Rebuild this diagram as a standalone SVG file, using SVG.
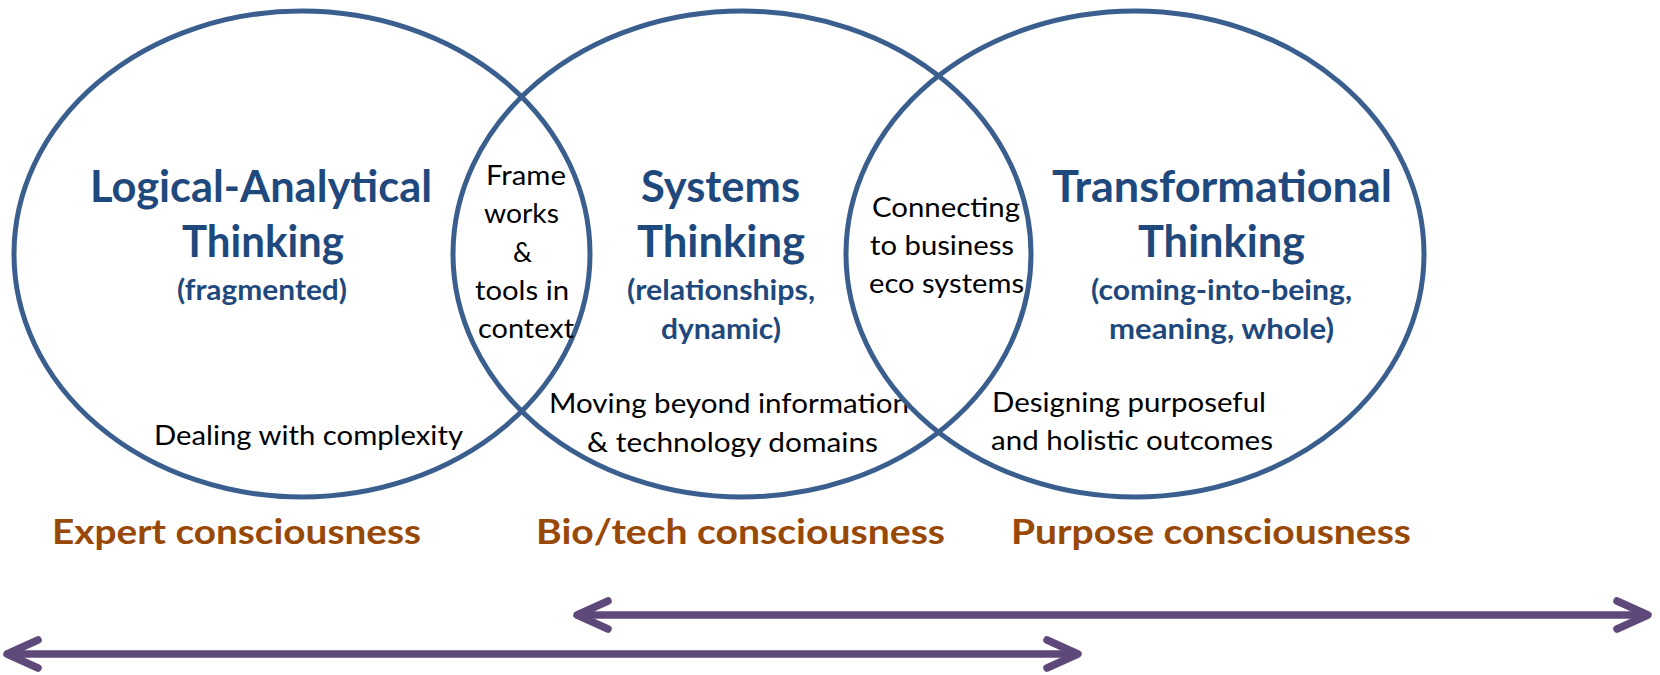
<svg xmlns="http://www.w3.org/2000/svg" width="1660" height="675" viewBox="0 0 1660 675">
  <style>
    .ring { fill: none; stroke: #3A5F8E; stroke-width: 5; }
    .title { font-family: Lato, "Liberation Sans", sans-serif; font-weight: 700; font-size: 44px; fill: #1F497D; }
    .sub { font-family: Lato, "Liberation Sans", sans-serif; font-weight: 700; font-size: 29px; fill: #1F497D; }
    .note { font-family: Lato, "Liberation Sans", sans-serif; font-weight: 400; font-size: 27px; fill: #000000; }
    .level { font-family: Lato, "Liberation Sans", sans-serif; font-weight: 700; font-size: 35px; fill: #984807; }
    .span { fill: none; stroke: #5F497A; stroke-width: 7.5; }
  </style>
  <defs>
    <marker id="chevron" markerUnits="userSpaceOnUse" orient="auto-start-reverse" refX="0" refY="0" markerWidth="40" markerHeight="40" overflow="visible">
      <path d="M-31,-14 L0,0 L-31,14" fill="none" stroke="#5F497A" stroke-width="7.5" stroke-linecap="round" stroke-linejoin="round"/>
    </marker>
  </defs>
  <rect width="1660" height="675" fill="#FFFFFF"/>

  <!-- three overlapping thinking modes -->
  <g id="logical-analytical">
    <ellipse class="ring" cx="302" cy="254" rx="288" ry="243"/>
    <text class="title" x="90" y="202" textLength="342" lengthAdjust="spacingAndGlyphs">Logical-Analytical</text>
    <text class="title" x="182" y="257" textLength="162" lengthAdjust="spacingAndGlyphs">Thinking</text>
    <text class="sub" x="177" y="300" textLength="170" lengthAdjust="spacingAndGlyphs">(fragmented)</text>
    <text class="note" x="154" y="445" textLength="309" lengthAdjust="spacingAndGlyphs">Dealing with complexity</text>
  </g>

  <g id="systems">
    <ellipse class="ring" cx="742" cy="254" rx="289" ry="243"/>
    <text class="title" x="641" y="202" textLength="159" lengthAdjust="spacingAndGlyphs">Systems</text>
    <text class="title" x="637" y="257" textLength="168" lengthAdjust="spacingAndGlyphs">Thinking</text>
    <text class="sub" x="627" y="300" textLength="188" lengthAdjust="spacingAndGlyphs">(relationships,</text>
    <text class="sub" x="661" y="339" textLength="120" lengthAdjust="spacingAndGlyphs">dynamic)</text>
    <text class="note" x="549" y="413" textLength="360" lengthAdjust="spacingAndGlyphs">Moving beyond information</text>
    <text class="note" x="587" y="452" textLength="291" lengthAdjust="spacingAndGlyphs">&amp; technology domains</text>
  </g>

  <g id="transformational">
    <ellipse class="ring" cx="1135" cy="254" rx="289" ry="243"/>
    <text class="title" x="1052" y="202" textLength="340" lengthAdjust="spacingAndGlyphs">Transformational</text>
    <text class="title" x="1138" y="257" textLength="167" lengthAdjust="spacingAndGlyphs">Thinking</text>
    <text class="sub" x="1091" y="300" textLength="261" lengthAdjust="spacingAndGlyphs">(coming-into-being,</text>
    <text class="sub" x="1109" y="339" textLength="225" lengthAdjust="spacingAndGlyphs">meaning, whole)</text>
    <text class="note" x="992" y="412" textLength="274" lengthAdjust="spacingAndGlyphs">Designing purposeful</text>
    <text class="note" x="991" y="450" textLength="282" lengthAdjust="spacingAndGlyphs">and holistic outcomes</text>
  </g>

  <!-- overlap regions -->
  <g id="frameworks-overlap">
    <text class="note" x="486" y="185" textLength="80" lengthAdjust="spacingAndGlyphs">Frame</text>
    <text class="note" x="484" y="223" textLength="75" lengthAdjust="spacingAndGlyphs">works</text>
    <text class="note" x="513" y="262" textLength="19" lengthAdjust="spacingAndGlyphs">&amp;</text>
    <text class="note" x="475" y="300" textLength="94" lengthAdjust="spacingAndGlyphs">tools in</text>
    <text class="note" x="478" y="338" textLength="96" lengthAdjust="spacingAndGlyphs">context</text>
  </g>

  <g id="ecosystems-overlap">
    <text class="note" x="872" y="217" textLength="148" lengthAdjust="spacingAndGlyphs">Connecting</text>
    <text class="note" x="870" y="255" textLength="144" lengthAdjust="spacingAndGlyphs">to business</text>
    <text class="note" x="869" y="293" textLength="155" lengthAdjust="spacingAndGlyphs">eco systems</text>
  </g>

  <!-- consciousness levels -->
  <g id="expert-consciousness">
    <text class="level" x="52" y="544" textLength="369" lengthAdjust="spacingAndGlyphs">Expert consciousness</text>
  </g>
  <g id="biotech-consciousness">
    <text class="level" x="536" y="544" textLength="409" lengthAdjust="spacingAndGlyphs">Bio/tech consciousness</text>
  </g>
  <g id="purpose-consciousness">
    <text class="level" x="1011" y="544" textLength="400" lengthAdjust="spacingAndGlyphs">Purpose consciousness</text>
  </g>

  <!-- span arrows -->
  <g id="connectors">
    <line class="span" x1="577" y1="615" x2="1648" y2="615" marker-start="url(#chevron)" marker-end="url(#chevron)"/>
    <line class="span" x1="7" y1="654" x2="1078" y2="654" marker-start="url(#chevron)" marker-end="url(#chevron)"/>
  </g>
</svg>
